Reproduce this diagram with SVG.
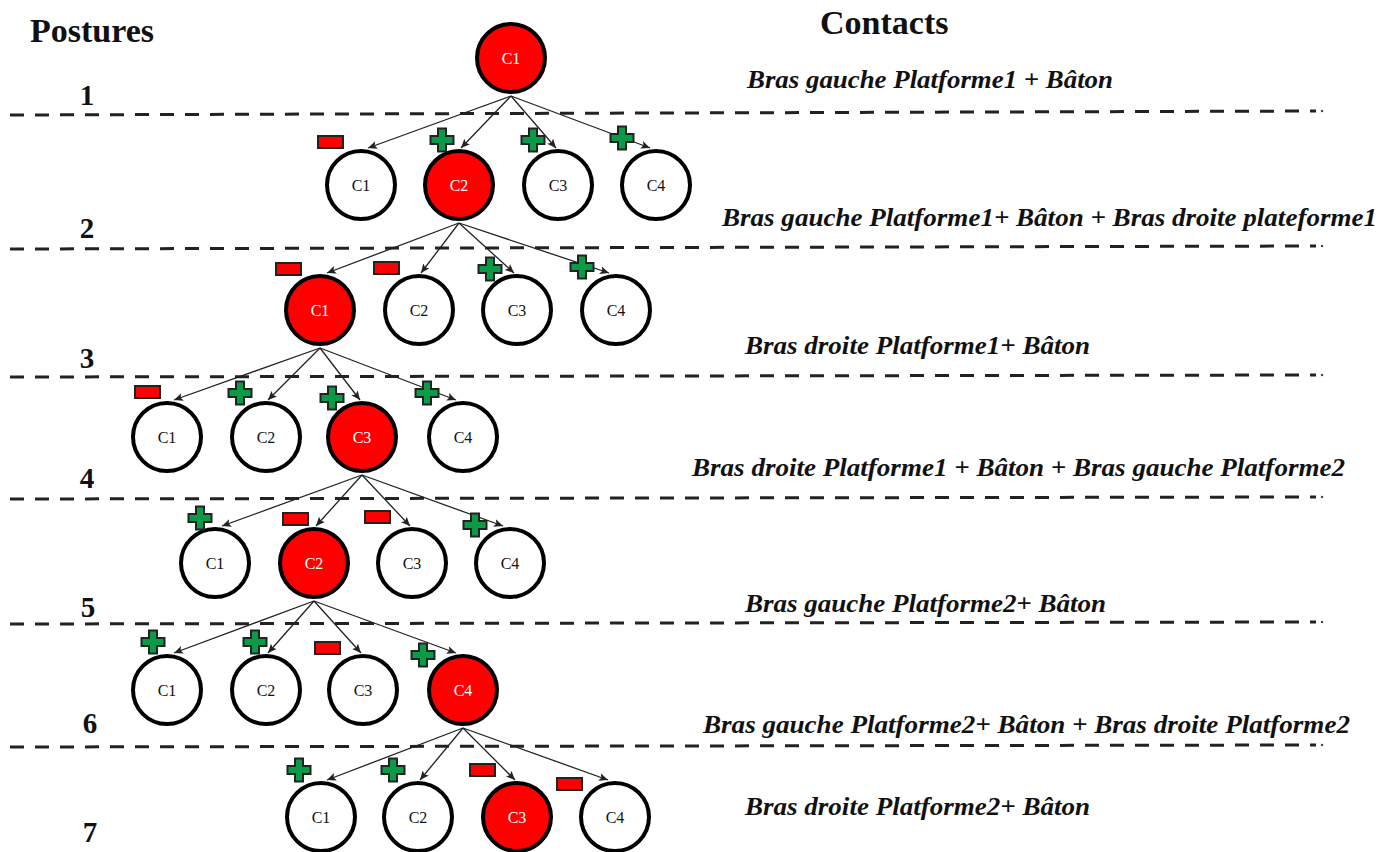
<svg xmlns="http://www.w3.org/2000/svg" width="1381" height="852" viewBox="0 0 1381 852">
  <style>
    .head { font-family: "Liberation Serif", "Times New Roman", serif; font-weight: bold; font-size: 34px; fill: #111; }
    .num { font-family: "Liberation Serif", "Times New Roman", serif; font-weight: bold; font-size: 29px; fill: #111; text-anchor: middle; }
    .contact { font-family: "Liberation Serif", "Times New Roman", serif; font-weight: bold; font-style: italic; font-size: 26px; fill: #111; }
    .sep { stroke: #222; stroke-width: 3; stroke-dasharray: 14 11; fill: none; }
    .dot { fill: #444; }
    .node circle { fill: #fff; stroke: #000; stroke-width: 4; }
    .node text { font-family: "Liberation Serif", "Times New Roman", serif; font-size: 16px; fill: #111; text-anchor: middle; dominant-baseline: central; }
    .node.on circle { fill: #ff0000; }
    .node.on text { fill: #fff; }
    .edge { stroke: #222; stroke-width: 1.3; fill: none; marker-end: url(#arrow); }
    .minus { fill: #ff0000; stroke: #222; stroke-width: 2; }
    .plus { fill: #0a9a48; stroke: #222; stroke-width: 2; }
  </style>
  <defs>
    <marker id="arrow" markerUnits="userSpaceOnUse" markerWidth="10" markerHeight="8" refX="9" refY="4" orient="auto">
      <path d="M0,0 L9,4 L0,8 L2,4 Z" fill="#222"/>
    </marker>
    <path id="plusSign" class="plus" d="M-4,-11.5 H4 V-4 H11.5 V4 H4 V11.5 H-4 V4 H-11.5 V-4 H-4 Z"/>
    <rect id="minusSign" class="minus" x="0" y="0" width="25" height="12"/>
  </defs>

  <rect width="1381" height="852" fill="#fff"/>

  <!-- column headings -->
  <text class="head" x="30" y="42">Postures</text>
  <text class="head" x="820" y="34">Contacts</text>

  <!-- posture numbers -->
  <g id="posture-numbers">
    <text class="num" x="87" y="105">1</text>
    <text class="num" x="87" y="238">2</text>
    <text class="num" x="87" y="368">3</text>
    <text class="num" x="87" y="488">4</text>
    <text class="num" x="88" y="617">5</text>
    <text class="num" x="90" y="733">6</text>
    <text class="num" x="90" y="842">7</text>
  </g>

  <!-- separators between postures -->
  <g id="separators">
    <line class="sep" x1="10" y1="115" x2="1316" y2="111"/><circle class="dot" cx="1322" cy="111" r="1.2"/>
    <line class="sep" x1="10" y1="249" x2="1316" y2="246"/><circle class="dot" cx="1322" cy="246" r="1.2"/>
    <line class="sep" x1="10" y1="377" x2="1316" y2="375"/><circle class="dot" cx="1322" cy="375" r="1.2"/>
    <line class="sep" x1="10" y1="499" x2="1316" y2="497"/><circle class="dot" cx="1322" cy="497" r="1.2"/>
    <line class="sep" x1="10" y1="624" x2="1316" y2="622"/><circle class="dot" cx="1322" cy="622" r="1.2"/>
    <line class="sep" x1="10" y1="747" x2="1316" y2="745"/><circle class="dot" cx="1322" cy="745" r="1.2"/>
  </g>

  <!-- contact descriptions -->
  <g id="contacts">
    <text class="contact" x="747" y="88" textLength="366" lengthAdjust="spacingAndGlyphs">Bras gauche Platforme1 + Bâton</text>
    <text class="contact" x="722" y="226" textLength="655" lengthAdjust="spacingAndGlyphs">Bras gauche Platforme1+ Bâton + Bras droite plateforme1</text>
    <text class="contact" x="745" y="354" textLength="345" lengthAdjust="spacingAndGlyphs">Bras droite Platforme1+ Bâton</text>
    <text class="contact" x="692" y="476" textLength="653" lengthAdjust="spacingAndGlyphs">Bras droite Platforme1 + Bâton + Bras gauche Platforme2</text>
    <text class="contact" x="745" y="612" textLength="361" lengthAdjust="spacingAndGlyphs">Bras gauche Platforme2+ Bâton</text>
    <text class="contact" x="703" y="733" textLength="647" lengthAdjust="spacingAndGlyphs">Bras gauche Platforme2+ Bâton + Bras droite Platforme2</text>
    <text class="contact" x="745" y="815" textLength="345" lengthAdjust="spacingAndGlyphs">Bras droite Platforme2+ Bâton</text>
  </g>

  <!-- connectors -->
  <g id="connectors">
    <line class="edge" x1="511" y1="96" x2="368" y2="148"/>
    <line class="edge" x1="511" y1="96" x2="461" y2="148"/>
    <line class="edge" x1="511" y1="96" x2="556" y2="148"/>
    <line class="edge" x1="511" y1="96" x2="650" y2="148"/>

    <line class="edge" x1="459" y1="223" x2="327" y2="273"/>
    <line class="edge" x1="459" y1="223" x2="421" y2="273"/>
    <line class="edge" x1="459" y1="223" x2="514" y2="273"/>
    <line class="edge" x1="459" y1="223" x2="609" y2="273"/>

    <line class="edge" x1="320" y1="348" x2="174" y2="400"/>
    <line class="edge" x1="320" y1="348" x2="268" y2="400"/>
    <line class="edge" x1="320" y1="348" x2="360" y2="400"/>
    <line class="edge" x1="320" y1="348" x2="456" y2="400"/>

    <line class="edge" x1="362" y1="475" x2="222" y2="526"/>
    <line class="edge" x1="362" y1="475" x2="316" y2="526"/>
    <line class="edge" x1="362" y1="475" x2="410" y2="526"/>
    <line class="edge" x1="362" y1="475" x2="503" y2="526"/>

    <line class="edge" x1="314" y1="601" x2="174" y2="653"/>
    <line class="edge" x1="314" y1="601" x2="268" y2="653"/>
    <line class="edge" x1="314" y1="601" x2="361" y2="653"/>
    <line class="edge" x1="314" y1="601" x2="456" y2="653"/>

    <line class="edge" x1="463" y1="728" x2="327" y2="780"/>
    <line class="edge" x1="463" y1="728" x2="420" y2="780"/>
    <line class="edge" x1="463" y1="728" x2="515" y2="780"/>
    <line class="edge" x1="463" y1="728" x2="608" y2="780"/>
  </g>

  <!-- posture 1 -->
  <g id="p1-c1" class="node on"><circle cx="511" cy="58" r="34"/><text x="511" y="58">C1</text></g>

  <!-- posture 2 -->
  <g id="p2-c1" class="node"><circle cx="361" cy="185" r="34"/><text x="361" y="185">C1</text></g>
  <g id="p2-c2" class="node on"><circle cx="459" cy="185" r="34"/><text x="459" y="185">C2</text></g>
  <g id="p2-c3" class="node"><circle cx="558" cy="185" r="34"/><text x="558" y="185">C3</text></g>
  <g id="p2-c4" class="node"><circle cx="656" cy="185" r="34"/><text x="656" y="185">C4</text></g>

  <!-- posture 3 -->
  <g id="p3-c1" class="node on"><circle cx="320" cy="310" r="34"/><text x="320" y="310">C1</text></g>
  <g id="p3-c2" class="node"><circle cx="419" cy="310" r="34"/><text x="419" y="310">C2</text></g>
  <g id="p3-c3" class="node"><circle cx="517" cy="310" r="34"/><text x="517" y="310">C3</text></g>
  <g id="p3-c4" class="node"><circle cx="616" cy="310" r="34"/><text x="616" y="310">C4</text></g>

  <!-- posture 4 -->
  <g id="p4-c1" class="node"><circle cx="167" cy="437" r="34"/><text x="167" y="437">C1</text></g>
  <g id="p4-c2" class="node"><circle cx="266" cy="437" r="34"/><text x="266" y="437">C2</text></g>
  <g id="p4-c3" class="node on"><circle cx="362" cy="437" r="34"/><text x="362" y="437">C3</text></g>
  <g id="p4-c4" class="node"><circle cx="463" cy="437" r="34"/><text x="463" y="437">C4</text></g>

  <!-- posture 5 -->
  <g id="p5-c1" class="node"><circle cx="215" cy="563" r="34"/><text x="215" y="563">C1</text></g>
  <g id="p5-c2" class="node on"><circle cx="314" cy="563" r="34"/><text x="314" y="563">C2</text></g>
  <g id="p5-c3" class="node"><circle cx="412" cy="563" r="34"/><text x="412" y="563">C3</text></g>
  <g id="p5-c4" class="node"><circle cx="510" cy="563" r="34"/><text x="510" y="563">C4</text></g>

  <!-- posture 6 -->
  <g id="p6-c1" class="node"><circle cx="167" cy="690" r="34"/><text x="167" y="690">C1</text></g>
  <g id="p6-c2" class="node"><circle cx="266" cy="690" r="34"/><text x="266" y="690">C2</text></g>
  <g id="p6-c3" class="node"><circle cx="363" cy="690" r="34"/><text x="363" y="690">C3</text></g>
  <g id="p6-c4" class="node on"><circle cx="463" cy="690" r="34"/><text x="463" y="690">C4</text></g>

  <!-- posture 7 -->
  <g id="p7-c1" class="node"><circle cx="321" cy="817" r="34"/><text x="321" y="817">C1</text></g>
  <g id="p7-c2" class="node"><circle cx="418" cy="817" r="34"/><text x="418" y="817">C2</text></g>
  <g id="p7-c3" class="node on"><circle cx="517" cy="817" r="34"/><text x="517" y="817">C3</text></g>
  <g id="p7-c4" class="node"><circle cx="615" cy="817" r="34"/><text x="615" y="817">C4</text></g>

  <!-- gain / loss signs on the transitions -->
  <g id="signs">
    <use href="#minusSign" x="318" y="136"/>
    <use href="#plusSign" x="442" y="140"/>
    <use href="#plusSign" x="533" y="140"/>
    <use href="#plusSign" x="622" y="138"/>

    <use href="#minusSign" x="276" y="263"/>
    <use href="#minusSign" x="374" y="262"/>
    <use href="#plusSign" x="490" y="269"/>
    <use href="#plusSign" x="582" y="267"/>

    <use href="#minusSign" x="135" y="386"/>
    <use href="#plusSign" x="240" y="393"/>
    <use href="#plusSign" x="332" y="398"/>
    <use href="#plusSign" x="427" y="393"/>

    <use href="#plusSign" x="200" y="518"/>
    <use href="#minusSign" x="283" y="513"/>
    <use href="#minusSign" x="365" y="511"/>
    <use href="#plusSign" x="475" y="525"/>

    <use href="#plusSign" x="153" y="642"/>
    <use href="#plusSign" x="255" y="642"/>
    <use href="#minusSign" x="315" y="642"/>
    <use href="#plusSign" x="423" y="655"/>

    <use href="#plusSign" x="299" y="770"/>
    <use href="#plusSign" x="393" y="770"/>
    <use href="#minusSign" x="470" y="764"/>
    <use href="#minusSign" x="557" y="778"/>
  </g>
</svg>
